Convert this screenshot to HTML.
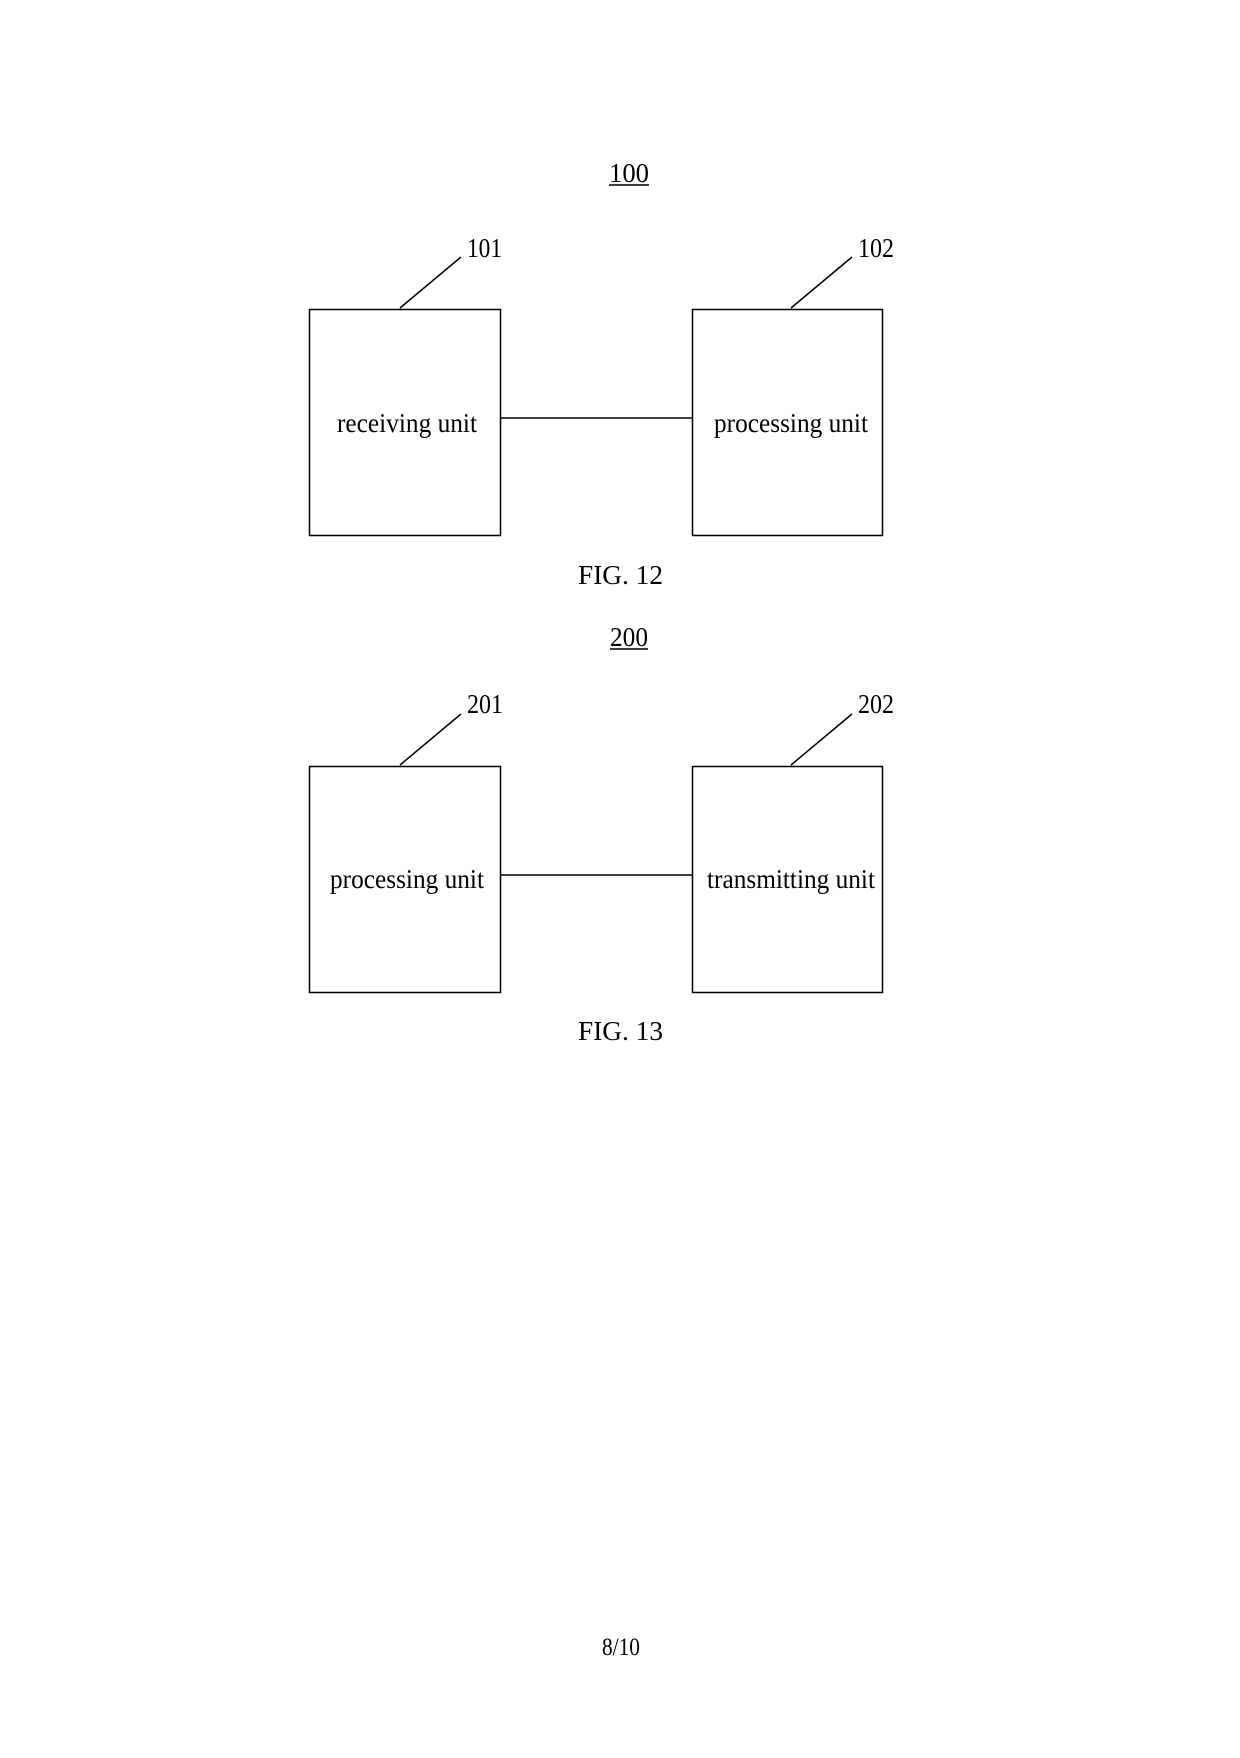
<!DOCTYPE html>
<html><head><meta charset="utf-8"><style>html,body{margin:0;padding:0;background:#fff}</style></head>
<body>
<svg width="1240" height="1753" xmlns="http://www.w3.org/2000/svg" font-family="'Liberation Serif', serif" fill="#000">
<rect width="1240" height="1753" fill="#fff"/>
<g stroke="#000" stroke-width="1.5" fill="none">
  <rect x="309.5" y="309.5" width="191" height="226"/>
  <rect x="692.5" y="309.5" width="190" height="226"/>
  <line x1="501" y1="418" x2="692" y2="418"/>
  <line x1="400" y1="308" x2="461" y2="257"/>
  <line x1="791" y1="308" x2="852" y2="257"/>
  <line x1="609" y1="185" x2="649" y2="185"/>

  <rect x="309.5" y="766.5" width="191" height="226"/>
  <rect x="692.5" y="766.5" width="190" height="226"/>
  <line x1="501" y1="875" x2="692" y2="875"/>
  <line x1="400" y1="765" x2="461" y2="714"/>
  <line x1="791" y1="765" x2="852" y2="714"/>
  <line x1="610" y1="649" x2="648" y2="649"/>
</g>
<g font-size="27">
  <text x="609" y="182" textLength="40" lengthAdjust="spacingAndGlyphs">100</text>
  <text x="467" y="257" textLength="35" lengthAdjust="spacingAndGlyphs">101</text>
  <text x="858" y="257" textLength="36" lengthAdjust="spacingAndGlyphs">102</text>
  <text x="337" y="432" textLength="140" lengthAdjust="spacingAndGlyphs">receiving unit</text>
  <text x="714" y="432" textLength="154" lengthAdjust="spacingAndGlyphs">processing unit</text>
  <text x="578" y="584" textLength="85" lengthAdjust="spacingAndGlyphs">FIG. 12</text>
  <text x="610" y="646" textLength="38" lengthAdjust="spacingAndGlyphs">200</text>
  <text x="467" y="713" textLength="36" lengthAdjust="spacingAndGlyphs">201</text>
  <text x="858" y="713" textLength="36" lengthAdjust="spacingAndGlyphs">202</text>
  <text x="330" y="888" textLength="154" lengthAdjust="spacingAndGlyphs">processing unit</text>
  <text x="707" y="888" textLength="168" lengthAdjust="spacingAndGlyphs">transmitting unit</text>
  <text x="578" y="1040" textLength="85" lengthAdjust="spacingAndGlyphs">FIG. 13</text>
  <text x="602" y="1655" font-size="25" textLength="38" lengthAdjust="spacingAndGlyphs">8/10</text>
</g>
</svg>
</body></html>
